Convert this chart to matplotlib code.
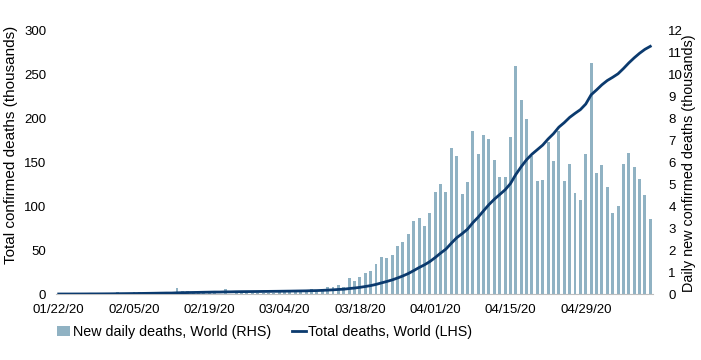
import numpy as np
import pandas as pd
import matplotlib
matplotlib.use("Agg")
from matplotlib import pyplot as plt
from matplotlib.patches import Patch
from matplotlib.lines import Line2D

plt.rcParams['font.family'] = ['Liberation Sans', 'DejaVu Sans']

# daily new deaths, world (thousands), 01/22/20 .. 05/11/20
dates = pd.date_range('2020-01-22', '2020-05-11')
daily_jan = [0.0, 0.001, 0.008, 0.016, 0.014, 0.026, 0.049, 0.002, 0.038, 0.042]
daily_feb = [0.046, 0.103, 0.064, 0.066, 0.072, 0.070, 0.085, 0.087, 0.100, 0.107,
             0.100, 0.005, 0.253, 0.152, 0.143, 0.104, 0.098, 0.139, 0.115, 0.125,
             0.004, 0.207, 0.011, 0.160, 0.080, 0.062, 0.044, 0.058, 0.066]
daily_mar = [0.055, 0.067, 0.074, 0.094, 0.081, 0.101, 0.103,
             0.09, 0.21, 0.10, 0.24, 0.30, 0.32, 0.41, 0.31, 0.73, 0.59,
             0.78, 0.96, 1.03, 1.37, 1.69, 1.64,
             1.78, 2.19, 2.37, 2.72, 3.32, 3.47, 3.12, 3.68]
daily_apr = [4.64, 5.02, 4.64, 6.65, 6.28, 4.58, 5.11, 7.45, 6.37, 7.25,
             7.07, 6.13, 5.34, 5.35, 7.15, 10.42, 8.85, 7.98, 6.30, 5.16,
             5.20, 6.95, 6.05, 7.45, 5.16, 5.93, 4.61, 4.27, 6.39, 10.54]
daily_may = [5.52, 5.88, 4.88, 3.68, 4.01, 5.92, 6.43, 5.79, 5.23, 4.53, 3.42]
daily = np.array(daily_jan + daily_feb + daily_mar + daily_apr + daily_may)

# total deaths (thousands): count on 01/22 plus the daily additions
total_start = 0.017
total = total_start + np.cumsum(daily)

tick_every = 14
tick_labels = [d.strftime('%m/%d/%y') for d in dates[::tick_every]]

bar_color = '#90b2c3'
line_color = '#0b3a6e'

fig = plt.figure(figsize=(7.01, 3.6), dpi=100)
ax = fig.add_axes([0.0799, 0.1833, 0.8516, 0.7306])
ax2 = ax.twinx()

x = np.arange(len(dates))
ax2.bar(x, daily, width=0.55, color=bar_color, zorder=1)
ax.plot(x, total, color=line_color, linewidth=2, zorder=3)

# line on top of bars
ax.set_zorder(ax2.get_zorder() + 1)
ax.patch.set_visible(False)

ax.set_xlim(-0.5, len(dates) - 0.5)
ax.set_ylim(0, 300)
ax.set_yticks(np.arange(0, 301, 50))
ax2.set_ylim(0, 12)
ax2.set_yticks(np.arange(0, 13, 1))
ax.set_xticks(x[::tick_every])
ax.set_xticklabels(tick_labels)

for a in (ax, ax2):
    for s in a.spines.values():
        s.set_visible(False)
    a.tick_params(length=0, labelsize=9.5, colors='#000000')
ax.spines['bottom'].set_visible(True)
ax.spines['bottom'].set_color('#bfbfbf')
ax.tick_params(axis='y', pad=7)
ax.tick_params(axis='x', pad=7)
ax2.tick_params(axis='y', pad=11)

fig.text(11 / 701, 1 - 145 / 360, 'Total confirmed deaths (thousands)', rotation=90,
         ha='center', va='center', fontsize=11.0)
fig.text(689 / 701, 1 - 163 / 360, 'Daily new confirmed deaths (thousands)', rotation=90,
         ha='center', va='center', fontsize=10.4)

handles = [Patch(facecolor=bar_color, edgecolor='none'),
           Line2D([0], [0], color=line_color, linewidth=2)]
fig.legend(handles, ['New daily deaths, World (RHS)', 'Total deaths, World (LHS)'],
           loc='center left', bbox_to_anchor=(44 / 701, 1 - 332 / 360), ncol=2,
           frameon=False, fontsize=10.3, handlelength=0.95, handletextpad=0.15,
           columnspacing=1.5)

fig.savefig('out.png', dpi=100)
